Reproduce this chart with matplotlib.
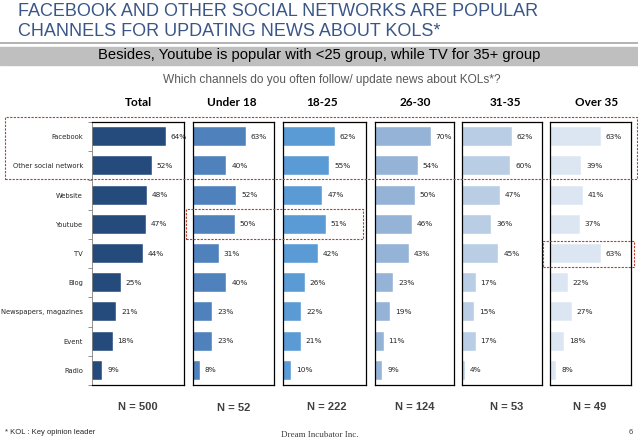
import numpy as np
import matplotlib.pyplot as plt
from matplotlib.patches import Rectangle
from matplotlib.lines import Line2D

categories = ["Facebook", "Other social network", "Website", "Youtube", "TV",
              "Blog", "Newspapers, magazines", "Event", "Radio"]
groups = ["Total", "Under 18", "18-25", "26-30", "31-35", "Over 35"]
sample_sizes = ["N = 500", "N = 52", "N = 222", "N = 124", "N = 53", "N = 49"]

total = [64, 52, 48, 47, 44, 25, 21, 18, 9]
under18 = [63, 40, 52, 50, 31, 40, 23, 23, 8]
age_18_25 = [62, 55, 47, 51, 42, 26, 22, 21, 10]
age_26_30 = [70, 54, 50, 46, 43, 23, 19, 11, 9]
age_31_35 = [62, 60, 47, 36, 45, 17, 15, 17, 4]
over35 = [63, 39, 41, 37, 63, 22, 27, 18, 8]
series = [total, under18, age_18_25, age_26_30, age_31_35, over35]

colours = ['#254A7C', '#4F81BD', '#5B9BD5', '#95B3D7', '#B9CDE5', '#DCE6F2']

W, H = 638, 442
fig = plt.figure(figsize=(W / 100, H / 100), dpi=100)


def fx(px):
    return px / W


def fy(py):
    return 1 - py / H


# title
title_col = '#3A5688'
fig.text(fx(18), fy(11), 'FACEBOOK AND OTHER SOCIAL NETWORKS ARE POPULAR',
         family='Liberation Sans', fontsize=13, color=title_col, va='center')
fig.text(fx(18), fy(32), 'CHANNELS FOR UPDATING NEWS ABOUT KOLS*',
         family='Liberation Sans', fontsize=13, color=title_col, va='center')

# gray rule + band
fig.add_artist(Line2D([0, 1], [fy(43), fy(43)], color='#A6A6A6', lw=1.2,
                      transform=fig.transFigure))
fig.add_artist(Rectangle((0, fy(65)), 1, (65 - 46.5) / H, color='#BFBFBF',
                         transform=fig.transFigure, zorder=0))
fig.text(fx(319), fy(55.5), 'Besides, Youtube is popular with <25 group, while TV for 35+ group',
         family='Liberation Sans', fontsize=10.6, color='black', ha='center', va='center')
fig.text(fx(332), fy(80), "Which channels do you often follow/ update news about KOLs*?",
         family='Liberation Sans', fontsize=8.6, color='#595959', ha='center', va='center')

# panels: (left, right) in pixels
panels = [(92, 184), (193, 274), (283, 366), (375, 454), (462, 542), (550, 631)]
xmax = [80, 97, 99, 99, 99, 101]
header_x = [138, 232, 322, 415, 505, 597]
n_x = [138, 234, 327, 415, 507, 590]
top, bottom = 122, 385
y = np.arange(len(categories))

for i, (l, r) in enumerate(panels):
    ax = fig.add_axes([fx(l), fy(bottom), (r - l) / W, (bottom - top) / H])
    vals = series[i]
    ax.barh(y, vals, height=0.65, color=colours[i], edgecolor='white', linewidth=0.3)
    for yy, v in zip(y, vals):
        ax.annotate(f'{v}%', (v, yy), xytext=(3.5, 0), textcoords='offset points',
                    fontsize=5.3, color='#262626', va='center', ha='left')
    ax.set_xlim(0, xmax[i])
    ax.set_ylim(8.5, -0.5)
    ax.set_xticks([])
    for s in ax.spines.values():
        s.set_color('black')
        s.set_linewidth(0.9)
    if i == 0:
        ax.set_yticks(y)
        ax.set_yticklabels(categories, fontsize=4.9, color='#262626')
        ax.tick_params(axis='y', which='major', length=0, pad=6.5)
        ax.set_yticks(np.arange(-0.5, 9, 1), minor=True)
        ax.tick_params(axis='y', which='minor', length=3, color='#808080', width=0.6)
        ax.spines['left'].set_color('#808080')
        ax.spines['left'].set_linewidth(0.6)
    else:
        ax.set_yticks([])
    fig.text(fx(header_x[i]), fy(103), groups[i], family='Lato', fontweight='bold',
             fontsize=8.5, ha='center', va='center', color='black')
    fig.text(fx(n_x[i]), fy(408 if i == 1 else 407), sample_sizes[i], family='Liberation Sans',
             fontweight='bold', fontsize=8, ha='center', va='center', color='#404040')

# red dashed highlight boxes
red = '#C0392B'
boxes = [(5, 117, 637, 179), (186, 209, 363, 239), (543, 241, 634, 267)]
for x0, y0, x1, y1 in boxes:
    fig.add_artist(Rectangle((fx(x0), fy(y1)), (x1 - x0) / W, (y1 - y0) / H,
                             fill=False, edgecolor=red, lw=0.8, ls=(0, (2, 1.2)),
                             transform=fig.transFigure, zorder=10))

# footer
fig.text(fx(5), fy(433), '* KOL : Key opinion leader', family='Liberation Sans',
         fontsize=5.5, color='#262626', va='center')
fig.text(fx(320), fy(435), 'Dream Incubator Inc.', family='Liberation Serif',
         fontsize=6.5, color='#404040', ha='center', va='center')
fig.text(fx(631), fy(432), '6', family='Liberation Sans', fontsize=5.5,
         color='#404040', ha='center', va='center')

fig.savefig('out.png', dpi=100)
